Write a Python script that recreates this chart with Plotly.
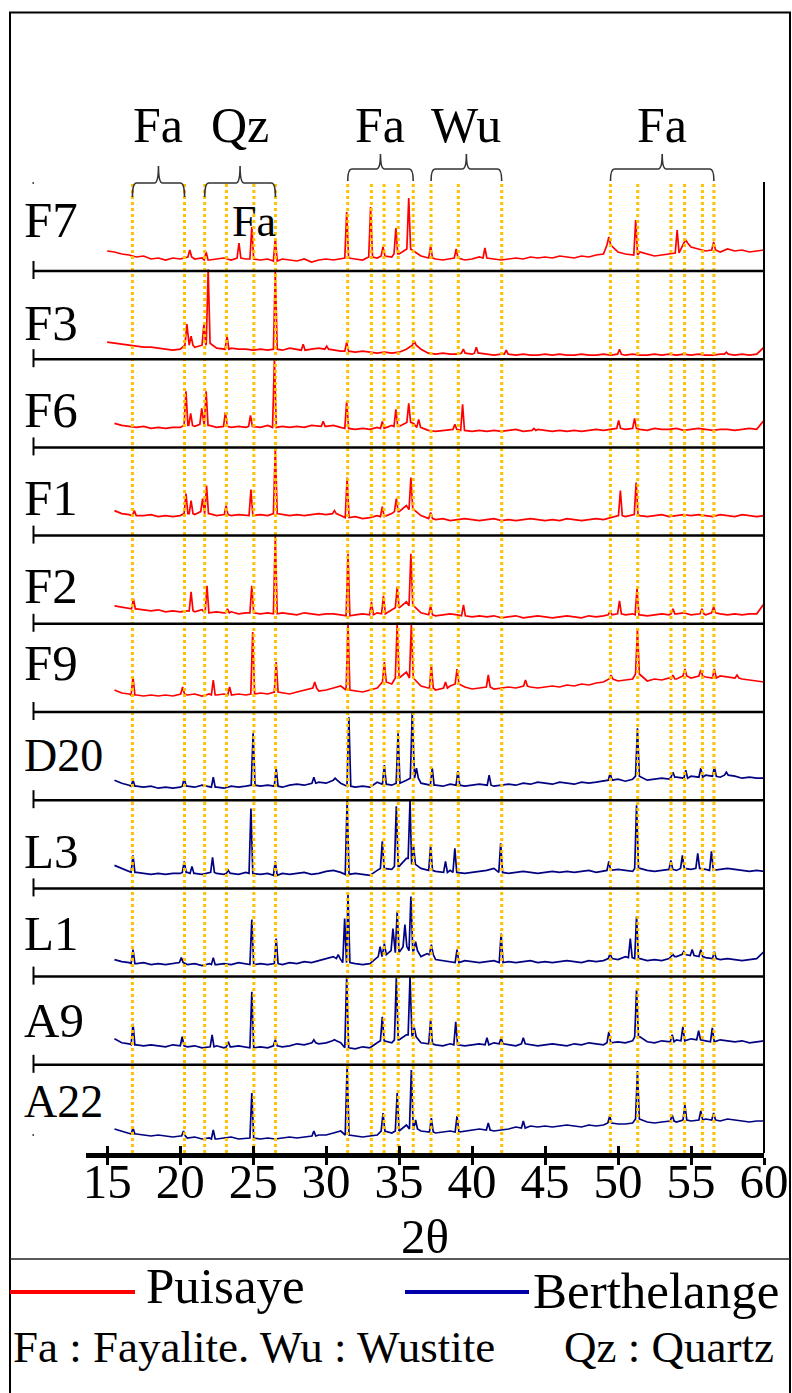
import plotly.graph_objects as go

# ---------------- data ----------------
SAMPLES = ["F7", "F3", "F6", "F1", "F2", "F9", "D20", "L3", "L1", "A9", "A22"]
REGION = ["Puisaye"] * 6 + ["Berthelange"] * 5

GRID_2THETA = [15.0, 15.5, 16.0, 16.5, 17.0, 17.5, 18.0, 18.5, 19.0, 19.5, 20.0,
               20.5, 21.0, 21.5, 22.0, 22.5, 23.0, 23.5, 24.0, 24.5, 25.0,
               25.5, 26.0, 26.5, 27.0, 27.5, 28.0, 28.5, 29.0, 29.5, 30.0,
               30.5, 31.0, 31.5, 32.0, 32.5, 33.0, 33.5, 34.0, 34.5, 35.0,
               35.5, 36.0, 36.5, 37.0, 37.5, 38.0, 38.5, 39.0, 39.5, 40.0,
               40.5, 41.0, 41.5, 42.0, 42.5, 43.0, 43.5, 44.0, 44.5, 45.0,
               45.5, 46.0, 46.5, 47.0, 47.5, 48.0, 48.5, 49.0, 49.5, 50.0,
               50.5, 51.0, 51.5, 52.0, 52.5, 53.0, 53.5, 54.0, 54.5, 55.0,
               55.5, 56.0, 56.5, 57.0, 57.5, 58.0, 58.5, 59.0, 59.5, 60.0]

# background intensity (a.u.) on GRID_2THETA
F7_BG = [20, 19, 17, 16, 14, 15, 12, 13, 11, 13, 12,
         14, 12, 13, 11, 12, 13, 11, 13, 12, 12,
         11, 12, 10, 12, 11, 10, 12, 9, 11, 12,
         11, 12, 13, 12, 11, 14, 13, 15, 14, 17,
         22, 20, 15, 13, 12, 11, 12, 13, 11, 12,
         14, 13, 12, 11, 12, 13, 12, 14, 13, 14,
         13, 15, 14, 13, 15, 14, 16, 17, 26, 19,
         17, 16, 19, 17, 15, 16, 17, 18, 28, 24,
         22, 20, 21, 19, 22, 20, 21, 19, 20, 21]
F3_BG = [17, 16, 15, 14, 13, 12, 12, 11, 10, 9, 10,
         14, 12, 14, 16, 11, 10, 11, 10, 10, 9,
         10, 9, 10, 9, 11, 10, 9, 10, 11, 10,
         9, 8, 8, 7, 8, 7, 6, 7, 6, 7,
         10, 14, 10, 6, 5, 6, 5, 5, 6, 5,
         6, 5, 4, 5, 5, 4, 5, 4, 4, 5,
         4, 5, 4, 4, 5, 4, 4, 5, 4, 5,
         4, 5, 4, 4, 5, 4, 5, 4, 5, 4,
         5, 4, 4, 5, 5, 4, 5, 4, 5, 12]
F6_BG = [None, 24, 22, 21, 20, 21, 19, 20, 19, 20, 20,
         22, 21, 23, 22, 20, 21, 20, 21, 20, 21,
         20, 22, 20, 21, 20, 21, 20, 22, 21, 21,
         22, 20, 19, 18, 19, 18, 20, 19, 22, 21,
         25, 24, 20, 17, 16, 17, 18, 18, 17, 16,
         17, 16, 17, 16, 17, 18, 16, 17, 18, 17,
         16, 17, 16, 17, 16, 17, 18, 17, 18, 19,
         18, 19, 18, 17, 19, 18, 18, 19, 17, 18,
         19, 18, 17, 18, 18, 17, 18, 19, 18, 27]
F1_BG = [None, 25, 22, 21, 20, 20, 21, 19, 20, 19, 20,
         22, 21, 24, 22, 20, 21, 20, 21, 20, 20,
         21, 20, 22, 21, 20, 21, 20, 21, 22, 21,
         22, 20, 18, 19, 17, 18, 20, 19, 22, 24,
         30, 26, 20, 17, 16, 17, 15, 16, 17, 16,
         15, 16, 17, 15, 16, 15, 16, 17, 16, 15,
         16, 15, 17, 16, 15, 16, 17, 16, 18, 20,
         19, 21, 20, 19, 20, 21, 19, 20, 21, 20,
         21, 20, 19, 21, 20, 19, 21, 20, 19, 20]
F2_BG = [None, 18, 17, 16, 15, 14, 13, 14, 12, 13, 12,
         13, 12, 14, 11, 12, 11, 12, 10, 11, 11,
         10, 11, 10, 11, 10, 9, 11, 10, 9, 10,
         10, 9, 8, 9, 10, 9, 11, 10, 14, 16,
         22, 18, 11, 9, 8, 9, 10, 9, 8, 7,
         8, 7, 8, 6, 7, 8, 6, 7, 8, 7,
         6, 7, 8, 7, 6, 8, 7, 8, 9, 10,
         9, 10, 9, 8, 9, 10, 9, 10, 11, 9,
         10, 9, 11, 10, 9, 10, 9, 10, 10, 20]
F9_BG = [None, 22, 19, 18, 17, 16, 17, 16, 17, 16, 18,
         17, 18, 16, 18, 17, 18, 17, 18, 17, 18,
         19, 18, 20, 19, 18, 20, 22, 24, 21, 22,
         24, 26, 22, 21, 20, 22, 24, 30, 28, 34,
         40, 34, 26, 24, 22, 24, 26, 28, 25, 23,
         24, 25, 23, 24, 25, 24, 26, 25, 24, 25,
         26, 25, 27, 26, 28, 27, 29, 30, 33, 31,
         32, 33, 38, 31, 33, 32, 34, 33, 36, 34,
         36, 35, 34, 36, 35, 34, 33, 32, 31, 30]
D20_BG = [None, 20, 17, 15, 14, 13, 14, 12, 13, 12, 13,
          14, 13, 15, 14, 13, 12, 14, 13, 14, 15,
          14, 15, 14, 13, 15, 16, 15, 17, 18, 17,
          20, 17, 14, 13, 14, 13, 18, 16, 15, 17,
          20, 22, 17, 16, 15, 14, 16, 15, 14, 15,
          16, 15, 14, 15, 16, 15, 17, 16, 18, 17,
          16, 18, 17, 16, 18, 17, 18, 19, 20, 21,
          19, 21, 24, 20, 21, 22, 21, 23, 22, 24,
          23, 25, 24, 23, 25, 24, 22, 23, 22, 22]
L3_BG = [None, 23, 20, 17, 16, 15, 14, 15, 14, 15, 15,
         16, 15, 14, 16, 15, 14, 15, 14, 16, 15,
         14, 15, 13, 15, 14, 15, 16, 14, 15, 17,
         18, 16, 14, 15, 14, 13, 18, 20, 19, 22,
         30, 24, 20, 18, 17, 16, 18, 16, 15, 16,
         17, 18, 20, 16, 15, 16, 17, 16, 15, 16,
         17, 16, 17, 16, 17, 18, 16, 17, 18, 19,
         18, 17, 20, 18, 17, 18, 19, 18, 20, 19,
         20, 19, 18, 19, 20, 19, 18, 17, 18, 17]
L1_BG = [None, 17, 15, 14, 13, 14, 12, 13, 12, 13, 14,
         12, 13, 11, 13, 12, 13, 12, 14, 13, 12,
         13, 12, 13, 12, 14, 13, 15, 14, 16, 18,
         20, 18, 14, 13, 12, 13, 20, 22, 26, 24,
         30, 26, 20, 22, 17, 16, 15, 14, 16, 15,
         14, 15, 16, 14, 15, 14, 15, 16, 14, 15,
         14, 15, 16, 15, 14, 16, 15, 16, 18, 17,
         20, 19, 18, 16, 17, 16, 18, 20, 22, 21,
         20, 19, 18, 17, 18, 17, 16, 17, 18, 25]
A9_BG = [None, 26, 22, 21, 20, 19, 20, 19, 18, 20, 19,
         18, 19, 17, 18, 19, 17, 18, 19, 18, 17,
         18, 17, 19, 18, 19, 21, 20, 22, 21, 22,
         24, 22, 17, 16, 18, 17, 22, 24, 22, 25,
         30, 28, 22, 21, 20, 19, 21, 20, 19, 20,
         21, 20, 22, 21, 20, 19, 21, 20, 19, 20,
         21, 20, 19, 21, 20, 22, 21, 20, 22, 23,
         22, 24, 28, 23, 22, 24, 23, 25, 24, 26,
         25, 24, 23, 25, 24, 23, 24, 22, 23, 24]
A22_BG = [None, 24, 22, 20, 19, 18, 17, 18, 17, 16, 17,
          15, 16, 14, 15, 14, 15, 16, 14, 15, 15,
          14, 15, 14, 15, 16, 15, 16, 17, 18, 18,
          20, 22, 18, 17, 16, 17, 18, 22, 20, 22,
          28, 24, 22, 21, 20, 21, 22, 21, 22, 23,
          24, 23, 22, 23, 24, 26, 25, 27, 26, 27,
          26, 27, 28, 27, 26, 28, 27, 28, 30, 29,
          29, 30, 34, 31, 30, 31, 32, 31, 33, 32,
          33, 34, 33, 32, 34, 33, 32, 31, 32, 32]

# diffraction peaks: (2theta, intensity a.u.)
F7_PEAKS = [(20.66, 21), (21.78, 19), (24.03, 28), (24.91, 44), (26.52, 33), (31.41, 59),
            (33.05, 64), (33.9, 24), (34.78, 43), (35.66, 73), (37.16, 25), (38.91, 22),
            (40.88, 23), (49.37, 34), (51.21, 51), (54.05, 41), (54.64, 31), (56.55, 29)]
F3_PEAKS = [(20.46, 35), (20.75, 23), (21.63, 35), (21.92, 90), (23.21, 23), (26.52, 88),
            (28.43, 15), (30.04, 13), (31.41, 17), (36.04, 18), (39.4, 10), (40.29, 12),
            (42.34, 9), (50.1, 10), (57.42, 7)]
F6_PEAKS = [(20.4, 56), (20.72, 34), (21.48, 39), (21.78, 56), (23.1, 35), (24.82, 32),
            (26.46, 88), (29.8, 26), (31.41, 46), (33.85, 26), (34.78, 38), (35.66, 44),
            (36.34, 28), (38.82, 23), (39.35, 43), (44.24, 19), (50.04, 27), (51.13, 29)]
F1_PEAKS = [(16.86, 25), (20.4, 42), (20.75, 35), (21.54, 37), (21.81, 50), (23.15, 30),
            (24.85, 46), (26.52, 88), (30.57, 25), (31.44, 58), (33.85, 29), (34.81, 37),
            (35.81, 58), (37.16, 23), (50.16, 45), (51.24, 53)]
F2_PEAKS = [(16.8, 25), (20.75, 32), (21.84, 38), (23.24, 15), (24.91, 38), (26.52, 88),
            (31.5, 70), (33.11, 22), (33.93, 28), (34.87, 37), (35.81, 70), (37.16, 18),
            (39.41, 19), (49.46, 13), (50.1, 23), (51.3, 35), (53.76, 15), (55.75, 15),
            (56.55, 17)]
F9_PEAKS = [(16.77, 35), (20.17, 25), (22.27, 32), (23.39, 25), (24.97, 80), (26.58, 50),
            (29.22, 30), (31.5, 88), (33.99, 50), (34.87, 88), (35.84, 88), (37.21, 47),
            (38.18, 30), (38.97, 43), (41.11, 37), (43.66, 32), (49.52, 37), (51.33, 83),
            (53.76, 37), (54.58, 43), (55.67, 42), (56.6, 43), (58.15, 37)]
D20_PEAKS = [(16.77, 20), (20.28, 22), (22.27, 23), (25.0, 67), (26.58, 31), (29.16, 23),
             (30.62, 22), (31.56, 83), (33.99, 35), (34.93, 67), (35.9, 87), (36.19, 32),
             (37.27, 32), (39.03, 29), (41.17, 25), (49.46, 27), (51.33, 72), (53.76, 28),
             (54.64, 30), (55.67, 32), (56.6, 33), (57.42, 28)]
L3_PEAKS = [(16.77, 33), (20.28, 27), (20.81, 22), (22.22, 31), (23.3, 18), (24.85, 80),
            (26.52, 27), (31.44, 88), (33.85, 47), (34.81, 82), (35.75, 88), (35.99, 42),
            (37.16, 43), (38.18, 27), (38.82, 40), (41.96, 45), (49.37, 27), (51.27, 83),
            (53.62, 28), (54.41, 33), (55.46, 35), (56.4, 37)]
L1_PEAKS = [(16.77, 27), (20.08, 19), (22.27, 19), (24.91, 57), (26.58, 38), (30.83, 22),
            (31.27, 58), (31.5, 82), (33.7, 30), (33.99, 33), (34.58, 48), (34.87, 65),
            (35.4, 52), (35.81, 80), (36.13, 35), (36.92, 23), (37.21, 32), (38.97, 27),
            (41.99, 43), (49.46, 23), (50.84, 38), (51.27, 60), (53.76, 22), (54.5, 25),
            (55.08, 27), (55.67, 27), (56.6, 25)]
A9_PEAKS = [(16.77, 41), (20.14, 28), (22.19, 30), (23.3, 23), (24.91, 73), (26.52, 25),
            (29.16, 25), (30.57, 25), (31.41, 88), (33.85, 48), (34.81, 87), (35.75, 88),
            (36.04, 37), (37.16, 45), (38.88, 43), (41.02, 27), (41.99, 27), (43.51, 27),
            (49.37, 33), (51.27, 75), (53.71, 30), (54.44, 38), (55.52, 34), (56.46, 37)]
A22_PEAKS = [(16.77, 25), (20.23, 22), (22.27, 23), (24.91, 60), (29.16, 22), (31.44, 87),
             (33.9, 40), (34.87, 60), (35.84, 83), (36.13, 33), (37.21, 35), (38.97, 37),
             (41.11, 30), (43.51, 32), (49.43, 37), (51.33, 82), (53.71, 38), (54.58, 48),
             (55.67, 42), (56.55, 40)]

BACKGROUNDS = [F7_BG, F3_BG, F6_BG, F1_BG, F2_BG, F9_BG, D20_BG, L3_BG, L1_BG, A9_BG, A22_BG]
PEAKS = [F7_PEAKS, F3_PEAKS, F6_PEAKS, F1_PEAKS, F2_PEAKS, F9_PEAKS,
         D20_PEAKS, L3_PEAKS, L1_PEAKS, A9_PEAKS, A22_PEAKS]

# reference lines (2theta) and phase groups
REF_LINES = [16.73, 20.3, 21.68, 23.17, 25.05, 26.53, 31.48, 33.1, 33.97, 34.94, 35.97,
             37.19, 39.06, 42.03, 49.48, 51.35, 53.63, 54.56, 55.78, 56.57]
PHASE_GROUPS = [("Fa", 0, 1), ("Qz", 2, 5), ("Fa", 6, 10), ("Wu", 11, 13), ("Fa", 14, 19)]

X_TICKS = [15, 20, 25, 30, 35, 40, 45, 50, 55, 60]
X_TICK_LABELS = ["15", "20", "25", "30", "35", "40", "45", "50", "55", "60"]

# ---------------- layout constants ----------------
W, H = 792, 1393
PL, PR, PT, PB = 86, 764, 12, 1153      # plot area in px
X_RANGE = [13.55, 60]
Y_MAX = PB - PT                          # y axis in a.u. == px
SPACING = 88.2
PEAK_HW = 0.13
SERIF = "Liberation Serif, Times New Roman, serif"
COLORS = {"Puisaye": "#FF0000", "Berthelange": "#000080"}
LINE_C = "#FFC000"


def xp(px):
    return (px - PL) / (PR - PL)


def yp(py):
    return (PB - py) / (PB - PT)


def build_trace(bg, peaks):
    pos = [p for p, _ in peaks]
    pts = []
    for x, y in zip(GRID_2THETA, bg):
        if y is None:
            continue
        if any(abs(x - p) < 0.18 for p in pos):
            continue
        pts.append((x, y))
    for p, h in peaks:
        j = min(range(len(GRID_2THETA)), key=lambda i: abs(GRID_2THETA[i] - p))
        b = bg[j] if bg[j] is not None else bg[j + 1]
        pts += [(p - PEAK_HW, b), (p, h), (p + PEAK_HW, b)]
    pts.sort(key=lambda t: t[0])
    return [t[0] for t in pts], [t[1] for t in pts]


fig = go.Figure()
n = len(SAMPLES)
for i, (name, bg, pk) in enumerate(zip(SAMPLES, BACKGROUNDS, PEAKS)):
    off = (n - 1 - i) * SPACING
    xs, ys = build_trace(bg, pk)
    fig.add_trace(go.Scatter(x=xs, y=[v + off for v in ys], mode="lines", name=name,
                             line=dict(color=COLORS[REGION[i]], width=1.7),
                             hoverinfo="skip", showlegend=False))

# dotted reference lines
LINE_TOP = PB - 181
vx, vy = [], []
for p in REF_LINES:
    vx += [p, p, None]
    vy += [0, LINE_TOP, None]
fig.add_trace(go.Scatter(x=vx, y=vy, mode="lines", line=dict(color=LINE_C, width=3, dash="dot"),
                         hoverinfo="skip", showlegend=False))
# invisible trace for the inside-tick axis
fig.add_trace(go.Scatter(x=[X_TICKS[0]], y=[0], xaxis="x2", mode="markers",
                         marker=dict(opacity=0), hoverinfo="skip", showlegend=False))

shapes = []
ann = []
# outer frame
shapes.append(dict(type="rect", xref="paper", yref="paper", x0=xp(10), x1=xp(790),
                   y0=yp(1400), y1=yp(12.5), line=dict(color="black", width=2)))
# separator above legend
shapes.append(dict(type="line", xref="paper", yref="paper", x0=xp(10), x1=xp(790),
                   y0=yp(1259), y1=yp(1259), line=dict(color="#222", width=1.5)))
# right vertical plot edge
shapes.append(dict(type="line", xref="paper", yref="paper", x0=1, x1=1,
                   y0=0, y1=yp(182), line=dict(color="black", width=2)))
# panel baselines and left ticks
for k in range(1, n):
    by = PB - k * SPACING
    shapes.append(dict(type="line", xref="paper", yref="paper", x0=xp(34), x1=1,
                       y0=yp(by), y1=yp(by), line=dict(color="black", width=2.5)))
    shapes.append(dict(type="line", xref="paper", yref="paper", x0=xp(33.5), x1=xp(33.5),
                       y0=yp(by + 8), y1=yp(by - 10), line=dict(color="black", width=2)))
# small end marks of the original y axis
for dy in (183, 1135):
    shapes.append(dict(type="line", xref="paper", yref="paper", x0=xp(32.5), x1=xp(34),
                       y0=yp(dy), y1=yp(dy), line=dict(color="#444", width=2)))

# phase brackets
for gi, (lab, a, b) in enumerate(PHASE_GROUPS):
    x0, x1 = REF_LINES[a], REF_LINES[b]
    xc = (x0 + x1) / 2
    if gi < 2:
        yh, yb, yt = 183, 197, 166
    else:
        yh, yb, yt = 169, 181, 154
    d = 0.28
    path = (f"M {x0},{yp(yb)} Q {x0},{yp(yh)} {x0 + d},{yp(yh)} L {xc - d},{yp(yh)} "
            f"Q {xc},{yp(yh)} {xc},{yp(yt)} Q {xc},{yp(yh)} {xc + d},{yp(yh)} "
            f"L {x1 - d},{yp(yh)} Q {x1},{yp(yh)} {x1},{yp(yb)}")
    shapes.append(dict(type="path", xref="x", yref="paper", path=path,
                       line=dict(color="#333", width=1.6)))
    ann.append(dict(x=xc, y=yp(125), xref="x", yref="paper", text=lab, showarrow=False,
                    xanchor="center", yanchor="middle", font=dict(family=SERIF, size=50, color="black")))
# Fa label next to the 25 deg line
ann.append(dict(x=REF_LINES[4], y=yp(221), xref="x", yref="paper", text="Fa", showarrow=False,
                xanchor="center", yanchor="middle", font=dict(family=SERIF, size=44, color="black")))

# sample labels
LABEL_Y = [220, 323, 410, 498, 586, 663, 755, 851, 933, 1021, 1101]
LABEL_SIZE = [51, 51, 51, 51, 51, 51, 46, 49, 49, 49, 46]
for name, ly, ls in zip(SAMPLES, LABEL_Y, LABEL_SIZE):
    ann.append(dict(x=xp(22), y=yp(ly), xref="paper", yref="paper", text=name, showarrow=False,
                    xanchor="left", yanchor="middle", font=dict(family=SERIF, size=ls, color="black")))

# legend
shapes.append(dict(type="line", xref="paper", yref="paper", x0=xp(10), x1=xp(135),
                   y0=yp(1292), y1=yp(1292), line=dict(color="#FF0000", width=4)))
shapes.append(dict(type="line", xref="paper", yref="paper", x0=xp(405), x1=xp(529),
                   y0=yp(1292), y1=yp(1292), line=dict(color="#0000AA", width=4)))
ann.append(dict(x=xp(144), y=yp(1286), xref="paper", yref="paper", text="Puisaye", showarrow=False,
                xanchor="left", yanchor="middle", font=dict(family=SERIF, size=51, color="black")))
ann.append(dict(x=xp(531), y=yp(1291), xref="paper", yref="paper", text="Berthelange", showarrow=False,
                xanchor="left", yanchor="middle", font=dict(family=SERIF, size=51, color="black")))
ann.append(dict(x=xp(11), y=yp(1347), xref="paper", yref="paper", text="Fa : Fayalite. Wu : Wustite",
                showarrow=False, xanchor="left", yanchor="middle",
                font=dict(family=SERIF, size=45, color="black")))
ann.append(dict(x=xp(562), y=yp(1347), xref="paper", yref="paper", text="Qz : Quartz",
                showarrow=False, xanchor="left", yanchor="middle",
                font=dict(family=SERIF, size=45, color="black")))

fig.update_layout(
    width=W, height=H, autosize=False,
    margin=dict(l=PL, r=W - PR, t=PT, b=H - PB, autoexpand=False),
    paper_bgcolor="white", plot_bgcolor="white",
    showlegend=False,
    xaxis=dict(range=X_RANGE, showgrid=False, zeroline=False, showline=True, linewidth=5,
               linecolor="black", ticks="outside", ticklen=7, tickwidth=3, tickcolor="black",
               tickvals=X_TICKS, ticktext=X_TICK_LABELS, ticklabelstandoff=-26, automargin=False,
               tickfont=dict(family=SERIF, size=49, color="black"),
               title=dict(text="2θ", font=dict(family=SERIF, size=49, color="black"), standoff=8)),
    xaxis2=dict(range=X_RANGE, overlaying="x", anchor="y", side="bottom", showgrid=False,
                zeroline=False, showline=False, ticks="inside", ticklen=7, tickwidth=3,
                tickcolor="black", tickvals=X_TICKS, showticklabels=False, automargin=False),
    yaxis=dict(range=[0, Y_MAX], visible=False, showgrid=False, zeroline=False, automargin=False),
    shapes=shapes, annotations=ann,
)

fig.write_html(
    "out.html",
    config={"displayModeBar": False, "responsive": False},
    post_script="document.body.style.margin='0';document.body.style.overflow='hidden';",
)
